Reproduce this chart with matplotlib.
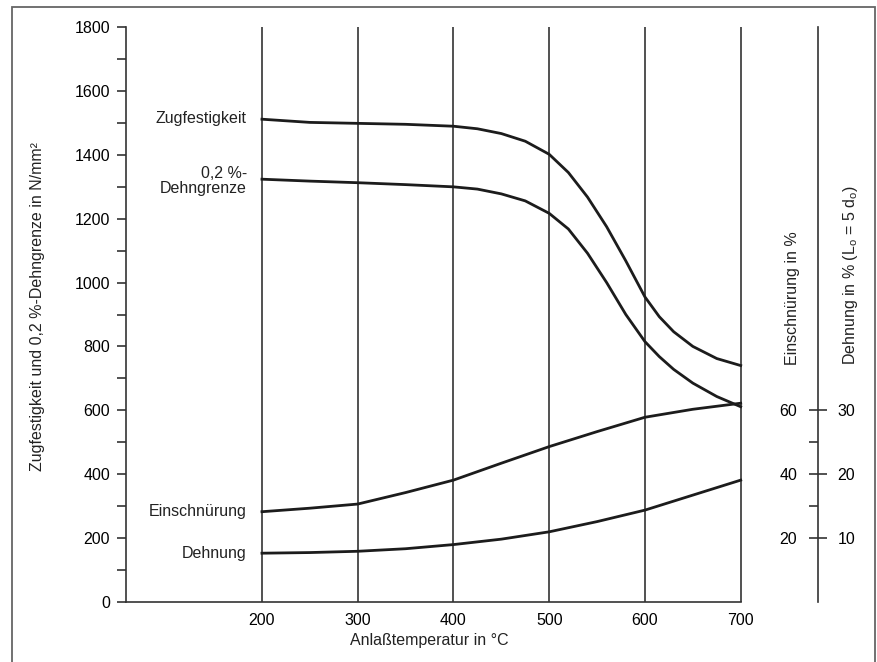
import numpy as np
import matplotlib.pyplot as plt
from matplotlib.patches import Rectangle

plt.rcParams['font.family'] = ['Liberation Sans', 'DejaVu Sans']
plt.rcParams['mathtext.fontset'] = 'custom'
plt.rcParams['mathtext.rm'] = 'Liberation Sans'
plt.rcParams['text.color'] = '#222222'

W, H = 877, 662

# data
temps = [200, 300, 400, 500, 600, 700]

# Zugfestigkeit / 0,2 %-Dehngrenze in N/mm^2
strength_x = [200, 250, 300, 350, 400, 425, 450, 475, 500, 520, 540, 560, 580, 600, 615, 630, 650, 675, 700]
zug = [1512, 1502, 1499, 1496, 1490, 1482, 1467, 1443, 1402, 1345, 1268, 1175, 1068, 955, 893, 846, 800, 762, 740]
dehngrenze = [1324, 1318, 1313, 1307, 1300, 1293, 1278, 1256, 1217, 1168, 1092, 1000, 900, 815, 768, 728, 685, 643, 611]

# Einschnürung and Dehnung in %
ductility_x = [200, 250, 300, 350, 400, 450, 500, 550, 600, 650, 700]
einschnuerung = [28.2, 29.3, 30.6, 34.2, 38.1, 43.4, 48.6, 53.3, 57.8, 60.3, 62.2]
dehnung = [7.6, 7.7, 7.9, 8.3, 8.95, 9.8, 10.95, 12.55, 14.35, 16.7, 19.05]

CURVE = '#1c1c1c'
GRID = '#333333'
FS = 11.5

fig = plt.figure(figsize=(W / 100, H / 100), dpi=100)
ax = fig.add_axes([126 / W, 1 - 601.7 / H, (740.7 - 126) / W, (601.7 - 27.3) / H])
ax.set_xlim(58, 700)
ax.set_ylim(0, 1800)
ax.spines['top'].set_visible(False)
ax.spines['right'].set_visible(False)
for s in ['left', 'bottom']:
    ax.spines[s].set_color(GRID)
    ax.spines[s].set_linewidth(1.2)

ax.set_yticks(range(0, 1801, 200))
ax.set_yticks(range(100, 1800, 200), minor=True)
ax.tick_params(axis='y', which='both', direction='out', length=6.5, width=1.2,
               color=GRID, pad=5, labelsize=FS)
ax.set_xticks(temps)
ax.tick_params(axis='x', length=0, pad=8, labelsize=FS)

ax.vlines(temps, 0, 1800, color=GRID, lw=1.2, clip_on=False)

ax.plot(strength_x, zug, color=CURVE, lw=2, clip_on=False)
ax.plot(strength_x, dehngrenze, color=CURVE, lw=2, clip_on=False)

# Einschnürung axis (left labels of the right scale)
axE = ax.twinx()
axE.set_ylim(0, 180)
for s in axE.spines.values():
    s.set_visible(False)
axE.spines['left'].set_visible(True)
axE.spines['left'].set_position(('axes', (818 - 126) / (740.7 - 126)))
axE.spines['left'].set_color(GRID)
axE.spines['left'].set_linewidth(1.2)
axE.yaxis.set_ticks_position('left')
axE.set_yticks([20, 40, 60])
axE.set_yticks([30, 50], minor=True)
axE.tick_params(axis='y', which='major', direction='inout', length=13, width=1.2,
                color=GRID, pad=8.5, labelsize=FS)
axE.tick_params(axis='y', which='minor', direction='out', length=6.5, width=1.2, color=GRID)
axE.plot(ductility_x, einschnuerung, color=CURVE, lw=2, clip_on=False)

# Dehnung axis (right labels of the right scale)
axD = ax.twinx()
axD.set_ylim(0, 90)
for s in axD.spines.values():
    s.set_visible(False)
axD.spines['right'].set_position(('axes', (818 - 126) / (740.7 - 126)))
axD.set_yticks([10, 20, 30])
axD.tick_params(axis='y', length=0, pad=14, labelsize=FS)
axD.plot(ductility_x, dehnung, color=CURVE, lw=2, clip_on=False)

# curve labels
ax.annotate('Zugfestigkeit', xy=(200, zug[0]), xytext=(-15, 1), textcoords='offset pixels',
            ha='right', va='center', fontsize=FS)
ax.annotate('0,2 %-\nDehngrenze', xy=(200, dehngrenze[0]), xytext=(-15, -2),
            textcoords='offset pixels', ha='right', va='center', fontsize=FS, linespacing=1.05)
axE.annotate('Einschnürung', xy=(200, einschnuerung[0]), xytext=(-15, 0),
             textcoords='offset pixels', ha='right', va='center', fontsize=FS)
axD.annotate('Dehnung', xy=(200, dehnung[0]), xytext=(-15, 0),
             textcoords='offset pixels', ha='right', va='center', fontsize=FS)

# axis titles
fig.text(38 / W, 1 - 306.5 / H, 'Zugfestigkeit und 0,2 %-Dehngrenze in N/mm²',
         rotation=90, ha='center', va='center', fontsize=FS)
fig.text(429 / W, 1 - 640.5 / H, 'Anlaßtemperatur in °C', ha='center', va='center', fontsize=FS)
fig.text(792 / W, 1 - 365 / H, 'Einschnürung in %', rotation=90, ha='center', va='bottom',
         fontsize=FS)
fig.text(850 / W, 1 - 365 / H, r'Dehnung in % (L$_\mathregular{o}$ = 5 d$_\mathregular{o}$)',
         rotation=90, ha='center', va='bottom', fontsize=FS)

# frame around the figure
fig.patches.append(Rectangle((11.5 / W, -0.02), (875 - 11.5) / W, 1.02 - 7 / H,
                             transform=fig.transFigure, fill=False, ec='#666666', lw=1.3))

fig.savefig('out.png', dpi=100)
